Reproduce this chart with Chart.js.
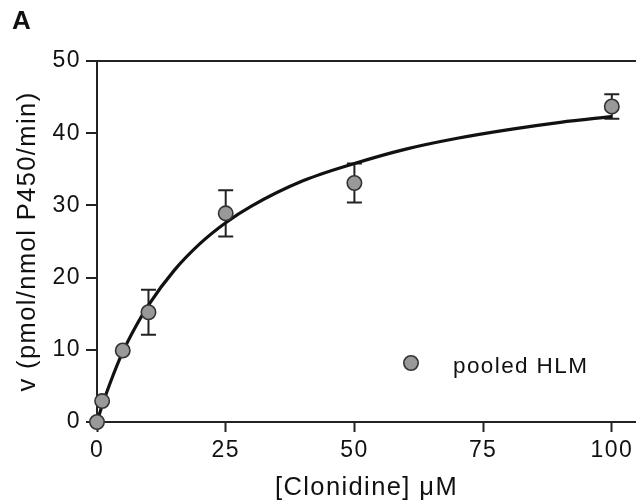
<!DOCTYPE html>
<html>
<head>
<meta charset="utf-8">
<script src="https://cdn.jsdelivr.net/npm/chart.js@4.4.1/dist/chart.umd.min.js"></script>
<style>
  html, body { margin: 0; padding: 0; background: #fff; }
  canvas { display: block; }
</style>
</head>
<body>
<canvas id="chart" width="636" height="503"></canvas>
<script>
// Clonidine concentration (µM) and measured rate, mean ± SD
const concentrations = [0, 1, 5, 10, 25, 50, 100];
const velocity       = [0, 2.9, 9.9, 15.2, 28.9, 33.1, 43.7];
const velocitySD     = [0, 0, 0, 3.1, 3.2, 2.7, 1.7];

// Fitted Michaelis–Menten curve, sampled along the concentration range
const fitX = [0, 1, 2.5, 5, 7.5, 10, 15, 20, 25, 30, 40, 50, 60, 70, 80, 90, 100];
const fitY = [0, 2.3, 5.3, 9.7, 13.2, 16.2, 21.0, 24.7, 27.6, 29.9, 33.4, 35.8, 37.8, 39.3, 40.5, 41.5, 42.3];

// Axis tick values
const xTicks = [0, 25, 50, 75, 100];
const yTicks = [0, 10, 20, 30, 40, 50];

const seriesLabel = 'pooled HLM';
const panelLetter = 'A';

const FONT = "'Liberation Sans', Arial, Helvetica, sans-serif";
const INK = '#222';
const TRACK = '1.4px';

const figurePlugin = {
  id: 'figure',
  beforeUpdate(chart) { chart.ctx.letterSpacing = TRACK; },
  beforeDraw(chart) {
    const ctx = chart.ctx;
    ctx.letterSpacing = TRACK;
    ctx.save();
    ctx.fillStyle = '#fff';
    ctx.fillRect(0, 0, chart.width, chart.height);
    ctx.restore();
  },
  beforeDatasetsDraw(chart) {
    // SD error bars with caps, under the line and markers
    const ctx = chart.ctx;
    const xs = chart.scales.x, ys = chart.scales.y;
    ctx.save();
    ctx.strokeStyle = INK;
    ctx.lineWidth = 2;
    concentrations.forEach((c, i) => {
      const sd = velocitySD[i];
      if (!sd) return;
      const px = xs.getPixelForValue(c);
      const top = ys.getPixelForValue(velocity[i] + sd);
      const bot = ys.getPixelForValue(velocity[i] - sd);
      const half = 7.5;
      ctx.beginPath();
      ctx.moveTo(px, top); ctx.lineTo(px, bot);
      ctx.moveTo(px - half, top); ctx.lineTo(px + half, top);
      ctx.moveTo(px - half, bot); ctx.lineTo(px + half, bot);
      ctx.stroke();
    });
    ctx.restore();
  },
  afterDraw(chart) {
    const ctx = chart.ctx;
    ctx.save();
    // legend entry inside the plot
    ctx.beginPath();
    ctx.arc(411, 363, 7.2, 0, Math.PI * 2);
    ctx.fillStyle = '#999';
    ctx.fill();
    ctx.lineWidth = 1.6;
    ctx.strokeStyle = '#333';
    ctx.stroke();
    ctx.fillStyle = '#111';
    ctx.font = '22.5px ' + FONT;
    ctx.textAlign = 'left';
    ctx.textBaseline = 'alphabetic';
    ctx.fillText(seriesLabel, 453, 373);
    // panel letter
    ctx.letterSpacing = '0px';
    ctx.font = 'bold 26px ' + FONT;
    ctx.fillText(panelLetter, 12, 29);
    ctx.restore();
  }
};

new Chart(document.getElementById('chart'), {
  data: {
    datasets: [
      {
        type: 'scatter',
        label: seriesLabel,
        data: concentrations.map((c, i) => ({ x: c, y: velocity[i] })),
        pointRadius: 7.2,
        pointHoverRadius: 7.2,
        backgroundColor: '#999',
        borderColor: '#333',
        borderWidth: 1.6,
        clip: false
      },
      {
        type: 'line',
        label: 'fit',
        data: fitX.map((c, i) => ({ x: c, y: fitY[i] })),
        borderColor: '#111',
        borderWidth: 3.2,
        pointRadius: 0,
        cubicInterpolationMode: 'monotone',
        fill: false,
        clip: false
      }
    ]
  },
  options: {
    responsive: false,
    animation: false,
    devicePixelRatio: 1,
    layout: { autoPadding: false, padding: { top: 61, right: 0, bottom: 0, left: 0 } },
    plugins: { legend: { display: false }, tooltip: { enabled: false } },
    scales: {
      x: {
        type: 'linear',
        min: 0,
        max: 104.7,
        afterBuildTicks: s => { s.ticks = xTicks.map(v => ({ value: v })); },
        afterFit: s => { s.height = 81; s.paddingLeft = 0; s.paddingRight = 0; },
        ticks: { color: '#111', font: { family: FONT, size: 23 }, padding: 5, maxRotation: 0 },
        grid: { drawOnChartArea: false, tickLength: 10, tickWidth: 2, tickColor: INK },
        border: { color: INK, width: 2 },
        title: {
          display: true,
          text: '[Clonidine] μM',
          color: '#111',
          font: { family: FONT, size: 25.5 },
          padding: { top: 0, bottom: 0 }
        }
      },
      y: {
        type: 'linear',
        min: 0,
        max: 50,
        afterBuildTicks: s => { s.ticks = yTicks.map(v => ({ value: v })); },
        afterFit: s => { s.width = 97; s.paddingTop = 0; s.paddingBottom = 0; },
        ticks: { color: '#111', font: { family: FONT, size: 23 }, padding: 5 },
        grid: {
          color: c => (c.tick && c.tick.value === 50 ? INK : 'rgba(0,0,0,0)'),
          lineWidth: 2,
          tickLength: 11,
          tickWidth: 2,
          tickColor: INK
        },
        border: { color: INK, width: 2 },
        title: {
          display: true,
          text: 'v (pmol/nmol P450/min)',
          color: '#111',
          font: { family: FONT, size: 25.5 },
          padding: { top: 13, bottom: 0 }
        }
      }
    }
  },
  plugins: [figurePlugin]
});
</script>
</body>
</html>
